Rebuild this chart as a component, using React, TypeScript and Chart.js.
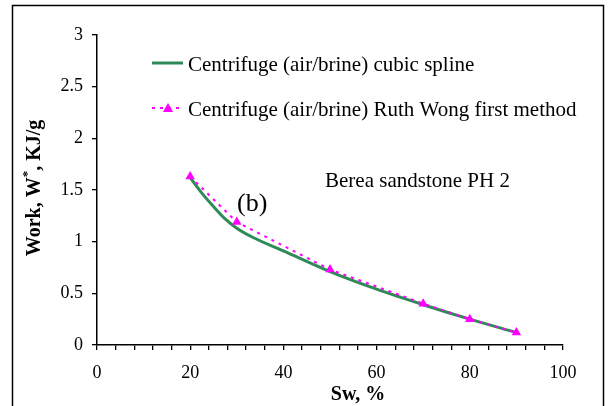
import React, { useEffect, useRef } from "react";
import { Chart, registerables } from "chart.js";

Chart.register(...registerables);

const splineSw = [20, 22.5, 25, 27.5, 30, 33.5, 40, 50, 60, 70, 80, 90];
const splineWork = [1.62, 1.47, 1.34, 1.22, 1.13, 1.04, 0.91, 0.71, 0.54, 0.39, 0.25, 0.12];

const ruthSw = [20, 30, 50, 70, 80, 90];
const ruthWork = [1.63, 1.19, 0.73, 0.4, 0.25, 0.12];

const xTickLabels = [0, 20, 40, 60, 80, 100];
const yTickLabels = [0, 0.5, 1, 1.5, 2, 2.5, 3];

const seriesNames = [
  "Centrifuge (air/brine) cubic spline",
  "Centrifuge (air/brine) Ruth Wong first method",
];
const annotationText = "Berea sandstone PH 2";
const panelLabel = "(b)";

const GREEN = "#2e8b57";
const MAGENTA = "#ff00ff";
const SERIF = "'Liberation Serif', 'Times New Roman', serif";

const extrasPlugin = {
  id: "extras",
  afterDraw(chart: any) {
    const ctx = chart.ctx as CanvasRenderingContext2D;
    ctx.save();
    // outer frame
    ctx.strokeStyle = "#000";
    ctx.lineWidth = 1.5;
    ctx.strokeRect(12.5, 5.5, 591, 500);

    // legend
    ctx.fillStyle = "#000";
    ctx.font = `21px ${SERIF}`;
    ctx.textBaseline = "middle";
    ctx.textAlign = "left";
    ctx.strokeStyle = GREEN;
    ctx.lineWidth = 3;
    ctx.beginPath();
    ctx.moveTo(152, 63);
    ctx.lineTo(183, 63);
    ctx.stroke();
    ctx.fillText(seriesNames[0], 188, 65);

    ctx.strokeStyle = MAGENTA;
    ctx.lineWidth = 2;
    ctx.setLineDash([3, 5]);
    ctx.beginPath();
    ctx.moveTo(152, 108);
    ctx.lineTo(180, 108);
    ctx.stroke();
    ctx.setLineDash([]);
    ctx.fillStyle = MAGENTA;
    ctx.beginPath();
    ctx.moveTo(168, 103);
    ctx.lineTo(173, 112);
    ctx.lineTo(163, 112);
    ctx.closePath();
    ctx.fill();
    ctx.fillStyle = "#000";
    ctx.fillText(seriesNames[1], 188, 110);

    // annotations
    ctx.font = `21px ${SERIF}`;
    ctx.fillText(annotationText, 325, 181);
    ctx.font = `26px ${SERIF}`;
    ctx.fillText(panelLabel, 237, 204);

    // x title
    ctx.font = `bold 20px ${SERIF}`;
    ctx.textAlign = "center";
    ctx.fillText("Sw, %", 358, 395);

    // y title with superscript
    ctx.translate(40, 188);
    ctx.rotate(-Math.PI / 2);
    ctx.textBaseline = "alphabetic";
    ctx.textAlign = "left";
    const p1 = "Work, W";
    const p2 = "*";
    const p3 = ", KJ/g";
    ctx.font = `bold 20px ${SERIF}`;
    const w1 = ctx.measureText(p1).width;
    const w3 = ctx.measureText(p3).width;
    ctx.font = `bold 13px ${SERIF}`;
    const w2 = ctx.measureText(p2).width;
    let x = -(w1 + w2 + w3) / 2;
    ctx.font = `bold 20px ${SERIF}`;
    ctx.fillText(p1, x, 0);
    x += w1;
    ctx.font = `bold 13px ${SERIF}`;
    ctx.fillText(p2, x, -9);
    x += w2;
    ctx.font = `bold 20px ${SERIF}`;
    ctx.fillText(p3, x, 0);
    ctx.restore();
  },
};

export default function App() {
  const ref = useRef<HTMLCanvasElement>(null);
  useEffect(() => {
    document.body.style.margin = "0";
    const canvas = ref.current!;
    const chart = new Chart(canvas, {
      type: "line",
      data: {
        datasets: [
          {
            label: seriesNames[1],
            data: ruthSw.map((v, i) => ({ x: v, y: ruthWork[i] })),
            borderColor: MAGENTA,
            backgroundColor: MAGENTA,
            borderWidth: 2,
            borderDash: [3, 5],
            pointStyle: "triangle",
            pointRadius: 5.5,
            pointBorderWidth: 0,
            pointBackgroundColor: MAGENTA,
            tension: 0,
            order: 0,
          },
          {
            label: seriesNames[0],
            data: splineSw.map((v, i) => ({ x: v, y: splineWork[i] })),
            borderColor: GREEN,
            backgroundColor: GREEN,
            borderWidth: 3,
            pointRadius: 0,
            cubicInterpolationMode: "monotone",
            order: 1,
          },
        ],
      },
      options: {
        responsive: false,
        animation: false,
        events: [],
        layout: { padding: { left: 0, top: 35, right: 47, bottom: 0 } },
        plugins: { legend: { display: false }, tooltip: { enabled: false } },
        scales: {
          x: {
            type: "linear",
            min: 0,
            max: 100,
            afterBuildTicks(scale: any) {
              const t = [];
              for (let v = 0; v <= 100; v += 4) t.push({ value: v });
              scale.ticks = t;
            },
            afterFit(scale: any) {
              scale.height = 61;
            },
            ticks: {
              autoSkip: false,
              maxRotation: 0,
              color: "#000",
              font: { family: SERIF, size: 18 },
              padding: 12,
              callback: (v: any) => (xTickLabels.includes(v) ? String(v) : ""),
            },
            grid: { drawOnChartArea: false, tickLength: 5, color: "#000", lineWidth: 1.3 },
            border: { color: "#000", width: 1.5 },
          },
          y: {
            type: "linear",
            min: 0,
            max: 3,
            afterBuildTicks(scale: any) {
              scale.ticks = yTickLabels.map((v) => ({ value: v }));
            },
            afterFit(scale: any) {
              scale.width = 97;
            },
            ticks: {
              color: "#000",
              font: { family: SERIF, size: 18 },
              padding: 9,
              callback: (v: any) => String(v),
            },
            grid: { drawOnChartArea: false, tickLength: 5, color: "#000", lineWidth: 1.3 },
            border: { color: "#000", width: 1.5 },
          },
        },
      },
      plugins: [extrasPlugin],
    });
    return () => chart.destroy();
  }, []);
  return <canvas ref={ref} width={610} height={406} style={{ display: "block" }} />;
}
